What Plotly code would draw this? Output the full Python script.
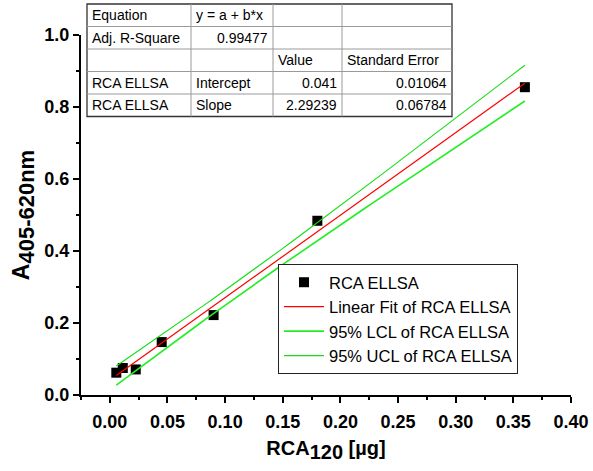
import numpy as np
import plotly.graph_objects as go

# ---- data ----
x_rca = [0.005625, 0.01125, 0.0225, 0.045, 0.09, 0.18, 0.36]
y_abs = [0.062, 0.075, 0.071, 0.147, 0.222, 0.484, 0.855]

fit_intercept = 0.041
fit_slope = 2.29239
se_intercept = 0.01064
se_slope = 0.06784
adj_r2 = 0.99477
t_crit = 2.570582  # t(0.975, df=5)

table_rows = [
    ["Equation", "y = a + b*x", "", ""],
    ["Adj. R-Square", "0.99477", "", ""],
    ["", "", "Value", "Standard Error"],
    ["RCA ELLSA", "Intercept", "0.041", "0.01064"],
    ["RCA ELLSA", "Slope", "2.29239", "0.06784"],
]
table_align = [
    ["left", "left", "left", "left"],
    ["left", "right", "left", "left"],
    ["left", "left", "left", "left"],
    ["left", "left", "right", "right"],
    ["left", "left", "right", "right"],
]

x_ticks = [0.00, 0.05, 0.10, 0.15, 0.20, 0.25, 0.30, 0.35, 0.40]
y_ticks = [0.0, 0.2, 0.4, 0.6, 0.8, 1.0]

# ---- fit & confidence band ----
xa = np.array(x_rca)
xbar = xa.mean()
xs = np.linspace(xa.min(), xa.max(), 60)
yfit = fit_intercept + fit_slope * xs
se_mean = np.sqrt(se_intercept**2 + xs**2 * se_slope**2 - 2 * xs * xbar * se_slope**2)
lcl = yfit - t_crit * se_mean
ucl = yfit + t_crit * se_mean

FONT = "Liberation Sans, Arial, sans-serif"

fig = go.Figure()
fig.add_trace(go.Scatter(x=x_rca, y=y_abs, mode="markers", name="RCA ELLSA",
                         marker=dict(symbol="square", size=10, color="black")))
fig.add_trace(go.Scatter(x=xs, y=yfit, mode="lines", name="Linear Fit of RCA ELLSA",
                         line=dict(color="#ff0000", width=1.2)))
fig.add_trace(go.Scatter(x=xs, y=lcl, mode="lines", name="95% LCL of RCA ELLSA",
                         line=dict(color="#22ee22", width=1.6)))
fig.add_trace(go.Scatter(x=xs, y=ucl, mode="lines", name="95% UCL of RCA ELLSA",
                         line=dict(color="#11dd11", width=1.1)))

# plot area in pixels
L, R, T, B = 81, 571, 35, 395
W, H = 593, 471


def px(x):
    return (x - L) / (R - L)


def py(y):
    return (B - y) / (B - T)


# table
cols = [87, 191, 273, 342, 452]
rows = [4, 26.5, 49, 71.5, 94, 116.5]
shapes = [dict(type="rect", xref="paper", yref="paper", x0=px(cols[0]), x1=px(cols[-1]),
               y0=py(rows[-1]), y1=py(rows[0]), fillcolor="white",
               line=dict(color="#333333", width=1.3), layer="above")]
for c in cols[1:-1]:
    shapes.append(dict(type="line", xref="paper", yref="paper", x0=px(c), x1=px(c),
                       y0=py(rows[-1]), y1=py(rows[0]), line=dict(color="#9a9a9a", width=1), layer="above"))
for r in rows[1:-1]:
    shapes.append(dict(type="line", xref="paper", yref="paper", x0=px(cols[0]), x1=px(cols[-1]),
                       y0=py(r), y1=py(r), line=dict(color="#9a9a9a", width=1), layer="above"))

annotations = []
for i, row in enumerate(table_rows):
    for j, txt in enumerate(row):
        if not txt:
            continue
        al = table_align[i][j]
        xpos = cols[j] + 3 if al == "left" else cols[j + 1] - 3
        annotations.append(dict(xref="paper", yref="paper", x=px(xpos),
                                y=py((rows[i] + rows[i + 1]) / 2), text=txt, showarrow=False,
                                xanchor=al, yanchor="middle",
                                font=dict(family=FONT, size=14, color="black")))

fig.update_layout(
    width=W, height=H,
    margin=dict(l=L, r=W - R, t=T, b=H - B, pad=0),
    plot_bgcolor="white", paper_bgcolor="white",
    font=dict(family=FONT, color="black"),
    showlegend=True,
    legend=dict(x=px(278), y=py(264), xanchor="left", yanchor="top",
                bordercolor="#222222", borderwidth=1, bgcolor="white",
                font=dict(family=FONT, size=16.5, color="black"),
                tracegroupgap=0, itemwidth=40, entrywidth=250, entrywidthmode="pixels"),
    shapes=shapes,
    annotations=annotations,
    xaxis=dict(range=[-0.025, 0.40], tickvals=x_ticks, tickformat=".2f", automargin=False,
               showline=True, linecolor="black", linewidth=2, mirror=False,
               ticks="outside", ticklen=6, tickwidth=2, tickcolor="black",
               minor=dict(ticks="outside", ticklen=3, tickwidth=2, tickcolor="black", dtick=0.025),
               showgrid=False, zeroline=False, ticklabelstandoff=3,
               tickfont=dict(family=FONT, size=18, color="black", weight="bold"),
               title=dict(text="RCA<sub><span style='font-size:20px'>120</span></sub> [µg]", standoff=10,
                          font=dict(family=FONT, size=20, color="black", weight="bold"))),
    yaxis=dict(range=[0, 1.0], tickvals=y_ticks, tickformat=".1f", automargin=False,
               showline=True, linecolor="black", linewidth=2, mirror=False,
               ticks="outside", ticklen=6, tickwidth=2, tickcolor="black",
               minor=dict(ticks="outside", ticklen=3, tickwidth=2, tickcolor="black", dtick=0.1),
               showgrid=False, zeroline=False,
               tickfont=dict(family=FONT, size=18, color="black", weight="bold"),
               title=dict(text="A<sub><span style='font-size:22px'>405-620nm</span></sub>", standoff=8,
                          font=dict(family=FONT, size=23, color="black", weight="bold"))),
)

fig.write_html("out.html", config={"displayModeBar": False},
               post_script="document.body.style.margin='0px';")
